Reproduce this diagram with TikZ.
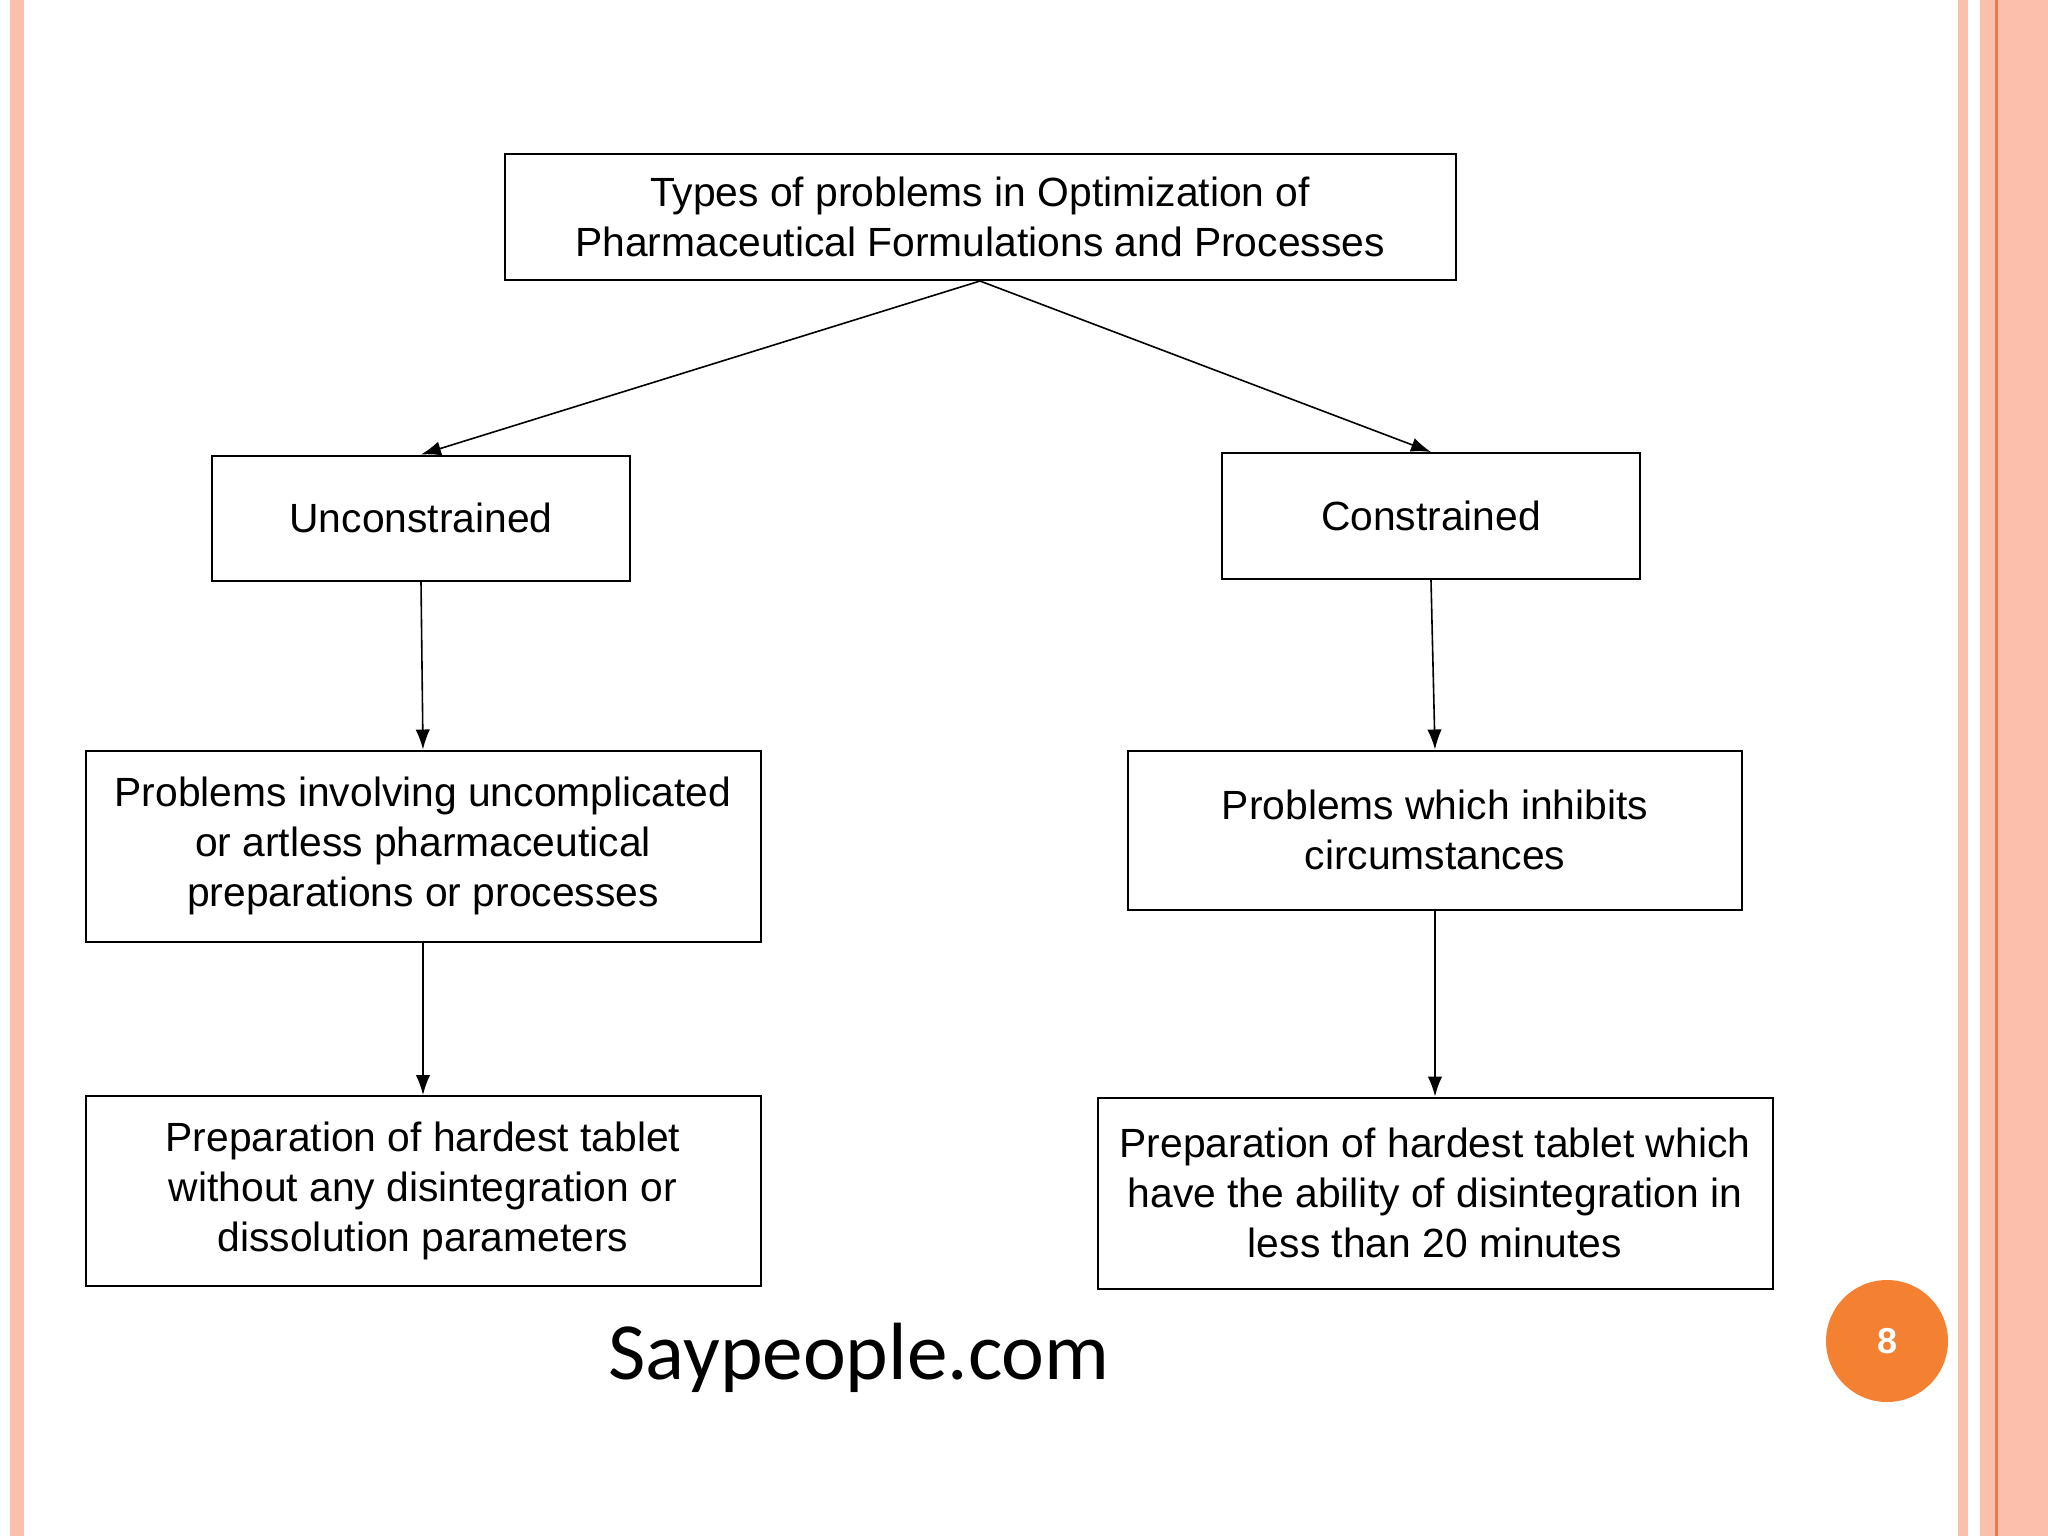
\documentclass[tikz,border=0pt]{standalone}
\usepackage{fontspec}
\setmainfont{Liberation Sans}
\newfontfamily\logofont{Carlito}
\usetikzlibrary{arrows.meta}
\definecolor{salmon}{RGB}{250,192,172}
\definecolor{salmondk}{RGB}{240,120,80}
\definecolor{pgorange}{RGB}{244,128,50}
\begin{document}
\begin{tikzpicture}[x=0.25pt,y=-0.25pt,
  bx/.style={draw,line width=0.5pt,inner sep=0pt,align=center,font=\fontsize{10.2}{12.5}\selectfont},
  arr/.style={line width=0.4pt,-{Latex[length=5pt,width=3.6pt]}}]
\useasboundingbox (0,0) rectangle (2048,1536);
\fill[white] (0,0) rectangle (2048,1536);
% borders
\fill[salmon] (10,0) rectangle (24,1536);
\fill[salmon] (1958,0) rectangle (1968,1536);
\fill[salmon] (1980,0) rectangle (2048,1536);
\fill[salmondk] (1995,0) rectangle (1998,1536);
% nodes
\node[bx,minimum width=951*0.25pt,minimum height=126*0.25pt] (top) at (980,217) {Types of problems in Optimization of\\Pharmaceutical Formulations and Processes};
\node[bx,minimum width=418*0.25pt,minimum height=125*0.25pt] (u) at (421,518) {Unconstrained};
\node[bx,minimum width=418*0.25pt,minimum height=126*0.25pt] (c) at (1431,516) {Constrained};
\node[bx,minimum width=675*0.25pt,minimum height=191*0.25pt] (lm) at (423,846) {Problems involving uncomplicated\\or artless pharmaceutical\\preparations or processes};
\node[bx,minimum width=614*0.25pt,minimum height=159*0.25pt] (rm) at (1435,830) {Problems which inhibits\\circumstances};
\node[bx,minimum width=675*0.25pt,minimum height=190*0.25pt] (lb) at (423,1191) {Preparation of hardest tablet\\without any disintegration or\\dissolution parameters};
\node[bx,minimum width=675*0.25pt,minimum height=191*0.25pt] (rb) at (1435,1193) {Preparation of hardest tablet which\\have the ability of disintegration in\\less than 20 minutes};
% arrows
\draw[arr] (top.south) -- (u.north);
\draw[arr] (top.south) -- (c.north);
\draw[arr] (u.south) -- (lm.north);
\draw[arr] (c.south) -- (rm.north);
\draw[arr] (lm.south) -- (lb.north);
\draw[arr] (rm.south) -- (rb.north);
% logo
\node[font=\logofont\fontsize{20.3}{24}\selectfont] (logo) at (859,1358) {Saypeople.com};
\node[circle,fill=pgorange,minimum size=122*0.25pt,inner sep=0pt,text=white,font=\bfseries\fontsize{9}{10}\selectfont] (pg) at (1887,1341) {8};
\end{tikzpicture}
\end{document}
